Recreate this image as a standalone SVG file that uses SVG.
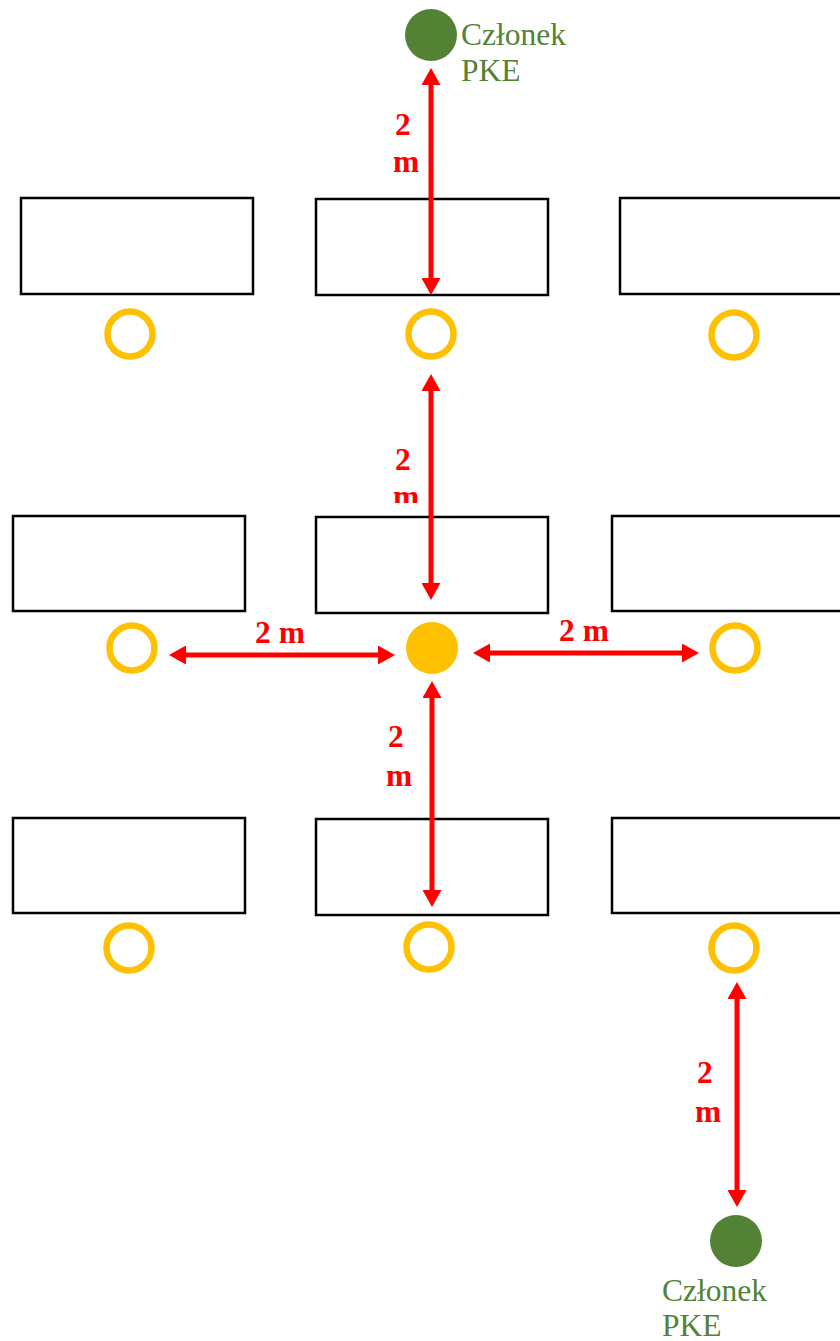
<svg xmlns="http://www.w3.org/2000/svg" width="840" height="1341" viewBox="0 0 840 1341">
  <style>
    .desk { fill: #FFFFFF; stroke: #000000; stroke-width: 2.5; }
    .seat { fill: none; stroke: #FFC000; stroke-width: 6.5; }
    .seatFilled { fill: #FFC000; }
    .member { fill: #548235; }
    .memberText { font-family: "Liberation Serif", "Times New Roman", serif; font-size: 31.5px; fill: #548235; }
    .dim { stroke: #FF0000; stroke-width: 5; fill: none; marker-start: url(#ah); marker-end: url(#ah); }
    .dimText { font-family: "Liberation Serif", "Times New Roman", serif; font-size: 31.5px; font-weight: bold; fill: #FF0000; }
  </style>
  <defs>
    <marker id="ah" markerUnits="userSpaceOnUse" markerWidth="18" markerHeight="19" refX="0" refY="9.5" orient="auto-start-reverse" viewBox="0 0 18 19">
      <path d="M0,0 L17,9.5 L0,19 Z" fill="#FF0000"/>
    </marker>
    <clipPath id="clipLabel2">
      <rect x="360" y="400" width="60" height="103"/>
    </clipPath>
  </defs>
  <rect width="840" height="1341" fill="#FFFFFF"/>

  <g id="desks">
    <g id="desk-r1c1"><rect class="desk" x="21" y="198" width="232" height="96"/></g>
    <g id="desk-r1c2"><rect class="desk" x="316" y="199" width="232" height="96"/></g>
    <g id="desk-r1c3"><rect class="desk" x="620" y="198" width="232" height="96"/></g>
    <g id="desk-r2c1"><rect class="desk" x="13" y="516" width="232" height="95"/></g>
    <g id="desk-r2c2"><rect class="desk" x="316" y="517" width="232" height="96"/></g>
    <g id="desk-r2c3"><rect class="desk" x="612" y="516" width="232" height="95"/></g>
    <g id="desk-r3c1"><rect class="desk" x="13" y="818" width="232" height="95"/></g>
    <g id="desk-r3c2"><rect class="desk" x="316" y="819" width="232" height="96"/></g>
    <g id="desk-r3c3"><rect class="desk" x="612" y="818" width="232" height="95"/></g>
  </g>

  <g id="seats">
    <g id="seat-r1c1"><circle class="seat" cx="130" cy="334" r="22.5"/></g>
    <g id="seat-r1c2"><circle class="seat" cx="431" cy="334" r="22.5"/></g>
    <g id="seat-r1c3"><circle class="seat" cx="734" cy="335" r="22.5"/></g>
    <g id="seat-r2c1"><circle class="seat" cx="132" cy="648" r="22.5"/></g>
    <g id="seat-r2c2"><circle class="seatFilled" cx="432" cy="648" r="26"/></g>
    <g id="seat-r2c3"><circle class="seat" cx="735" cy="648" r="22.5"/></g>
    <g id="seat-r3c1"><circle class="seat" cx="129" cy="948" r="22.5"/></g>
    <g id="seat-r3c2"><circle class="seat" cx="429" cy="947" r="22.5"/></g>
    <g id="seat-r3c3"><circle class="seat" cx="734" cy="948" r="22.5"/></g>
  </g>

  <g id="member-top">
    <circle class="member" cx="431" cy="35" r="26"/>
    <text class="memberText" x="461" y="45">Członek</text>
    <text class="memberText" x="461" y="81">PKE</text>
  </g>

  <g id="member-bottom">
    <circle class="member" cx="736" cy="1241" r="26"/>
    <text class="memberText" x="662" y="1301">Członek</text>
    <text class="memberText" x="662" y="1336">PKE</text>
  </g>

  <g id="connectors">
    <line class="dim" x1="431" y1="85" x2="431" y2="278"/>
    <line class="dim" x1="431" y1="391" x2="431" y2="583"/>
    <line class="dim" x1="186" y1="655" x2="378" y2="655"/>
    <line class="dim" x1="490" y1="653" x2="682" y2="653"/>
    <line class="dim" x1="432" y1="698" x2="432" y2="890"/>
    <line class="dim" x1="737" y1="999" x2="737" y2="1190"/>
  </g>

  <g id="labels">
    <g id="label-1">
      <text class="dimText" x="395" y="135">2</text>
      <text class="dimText" x="393" y="172">m</text>
    </g>
    <g id="label-2" clip-path="url(#clipLabel2)">
      <text class="dimText" x="395" y="470">2</text>
      <text class="dimText" x="393" y="507">m</text>
    </g>
    <g id="label-3">
      <text class="dimText" x="255" y="643">2 m</text>
    </g>
    <g id="label-4">
      <text class="dimText" x="559" y="641">2 m</text>
    </g>
    <g id="label-5">
      <text class="dimText" x="388" y="747">2</text>
      <text class="dimText" x="386" y="786">m</text>
    </g>
    <g id="label-6">
      <text class="dimText" x="697" y="1083">2</text>
      <text class="dimText" x="695" y="1122">m</text>
    </g>
  </g>
</svg>
